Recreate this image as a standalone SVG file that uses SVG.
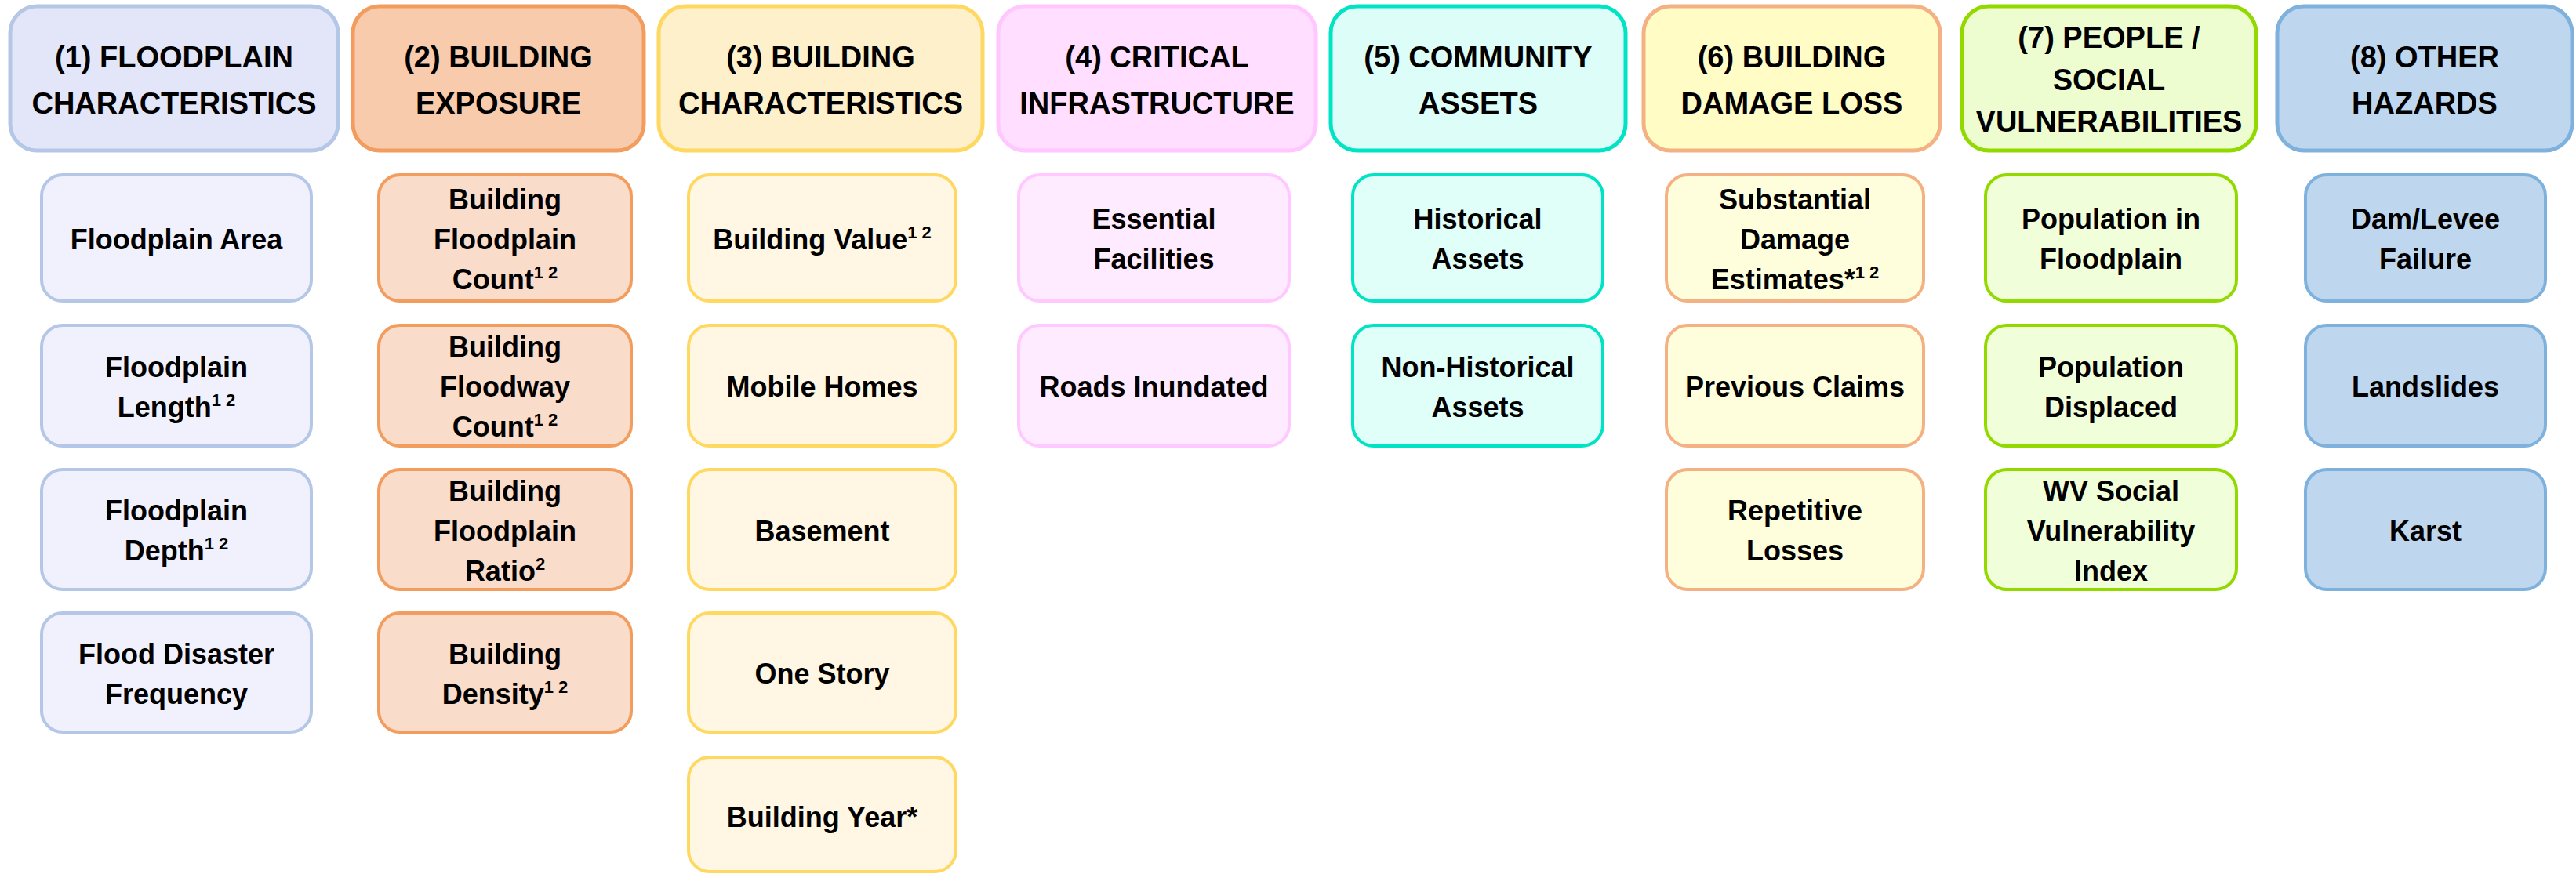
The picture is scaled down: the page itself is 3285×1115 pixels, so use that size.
<svg xmlns="http://www.w3.org/2000/svg" width="3285" height="1115" viewBox="0 0 3285 1115">
<style>
text{font-family:"Liberation Sans",Arial,sans-serif;font-weight:bold;fill:#000;text-anchor:middle}
.ht{font-size:38px}
.ct{font-size:36px}
.sup{font-size:22px}
.h{stroke-width:5}
.c{stroke-width:4}
.h1{fill:#E3E6F9;stroke:#B4C7E7}.c1{fill:#F0F1FC;stroke:#B4C7E7}
.h2{fill:#F7CBAC;stroke:#F29D5E}.c2{fill:#F9DCCA;stroke:#F29D5E}
.h3{fill:#FFF0CC;stroke:#FFD862}.c3{fill:#FFF7E3;stroke:#FFD862}
.h4{fill:#FFDEFF;stroke:#FFC6FF}.c4{fill:#FFEBFF;stroke:#FFC8FF}
.h5{fill:#DDFEF8;stroke:#00E3C4}.c5{fill:#E1FFF9;stroke:#00E3C4}
.h6{fill:#FFFCC6;stroke:#F4B183}.c6{fill:#FFFEDC;stroke:#F4B183}
.h7{fill:#EEFDD0;stroke:#92D900}.c7{fill:#F1FEDA;stroke:#92D900}
.h8{fill:#BED7EE;stroke:#7FB1DD}.c8{fill:#BED7EE;stroke:#7FB1DD}
</style>
<g id="connectors"/>

<!-- Column 1 -->
<g id="h1"><rect class="h h1" x="13" y="8" width="418" height="184" rx="34"/><text class="ht" x="222" y="86">(1) FLOODPLAIN</text><text class="ht" x="222" y="145">CHARACTERISTICS</text></g>
<g id="n1a"><rect class="c c1" x="53" y="223" width="344" height="161" rx="27"/><text class="ct" x="225" y="317.5">Floodplain Area</text></g>
<g id="n1b"><rect class="c c1" x="53" y="415" width="344" height="154" rx="27"/><text class="ct" x="225" y="480.5">Floodplain</text><text class="ct" x="225" y="531.5">Length<tspan class="sup" dy="-14">1 2</tspan></text></g>
<g id="n1c"><rect class="c c1" x="53" y="599" width="344" height="153" rx="27"/><text class="ct" x="225" y="664">Floodplain</text><text class="ct" x="225" y="715">Depth<tspan class="sup" dy="-14">1 2</tspan></text></g>
<g id="n1d"><rect class="c c1" x="53" y="782" width="344" height="152" rx="27"/><text class="ct" x="225" y="846.5">Flood Disaster</text><text class="ct" x="225" y="897.5">Frequency</text></g>

<!-- Column 2 -->
<g id="h2"><rect class="h h2" x="450" y="8" width="371" height="184" rx="34"/><text class="ht" x="635.5" y="86">(2) BUILDING</text><text class="ht" x="635.5" y="145">EXPOSURE</text></g>
<g id="n2a"><rect class="c c2" x="483" y="223" width="322" height="161" rx="27"/><text class="ct" x="644" y="266.5">Building</text><text class="ct" x="644" y="317.5">Floodplain</text><text class="ct" x="644" y="368.5">Count<tspan class="sup" dy="-14">1 2</tspan></text></g>
<g id="n2b"><rect class="c c2" x="483" y="415" width="322" height="154" rx="27"/><text class="ct" x="644" y="455">Building</text><text class="ct" x="644" y="506">Floodway</text><text class="ct" x="644" y="557">Count<tspan class="sup" dy="-14">1 2</tspan></text></g>
<g id="n2c"><rect class="c c2" x="483" y="599" width="322" height="153" rx="27"/><text class="ct" x="644" y="638.5">Building</text><text class="ct" x="644" y="689.5">Floodplain</text><text class="ct" x="644" y="740.5">Ratio<tspan class="sup" dy="-14">2</tspan></text></g>
<g id="n2d"><rect class="c c2" x="483" y="782" width="322" height="152" rx="27"/><text class="ct" x="644" y="846.5">Building</text><text class="ct" x="644" y="897.5">Density<tspan class="sup" dy="-14">1 2</tspan></text></g>

<!-- Column 3 -->
<g id="h3"><rect class="h h3" x="840" y="8" width="413" height="184" rx="34"/><text class="ht" x="1046.5" y="86">(3) BUILDING</text><text class="ht" x="1046.5" y="145">CHARACTERISTICS</text></g>
<g id="n3a"><rect class="c c3" x="878" y="223" width="341" height="161" rx="27"/><text class="ct" x="1048.5" y="317.5">Building Value<tspan class="sup" dy="-14">1 2</tspan></text></g>
<g id="n3b"><rect class="c c3" x="878" y="415" width="341" height="154" rx="27"/><text class="ct" x="1048.5" y="506">Mobile Homes</text></g>
<g id="n3c"><rect class="c c3" x="878" y="599" width="341" height="153" rx="27"/><text class="ct" x="1048.5" y="689.5">Basement</text></g>
<g id="n3d"><rect class="c c3" x="878" y="782" width="341" height="152" rx="27"/><text class="ct" x="1048.5" y="872">One Story</text></g>
<g id="n3e"><rect class="c c3" x="878" y="966" width="341" height="146" rx="27"/><text class="ct" x="1048.5" y="1054.5">Building Year*</text></g>

<!-- Column 4 -->
<g id="h4"><rect class="h h4" x="1273" y="8" width="405" height="184" rx="34"/><text class="ht" x="1475.5" y="86">(4) CRITICAL</text><text class="ht" x="1475.5" y="145">INFRASTRUCTURE</text></g>
<g id="n4a"><rect class="c c4" x="1299" y="223" width="345" height="161" rx="27"/><text class="ct" x="1471.5" y="292">Essential</text><text class="ct" x="1471.5" y="343">Facilities</text></g>
<g id="n4b"><rect class="c c4" x="1299" y="415" width="345" height="154" rx="27"/><text class="ct" x="1471.5" y="506">Roads Inundated</text></g>

<!-- Column 5 -->
<g id="h5"><rect class="h h5" x="1697" y="8" width="376" height="184" rx="34"/><text class="ht" x="1885" y="86">(5) COMMUNITY</text><text class="ht" x="1885" y="145">ASSETS</text></g>
<g id="n5a"><rect class="c c5" x="1725" y="223" width="319" height="161" rx="27"/><text class="ct" x="1884.5" y="292">Historical</text><text class="ct" x="1884.5" y="343">Assets</text></g>
<g id="n5b"><rect class="c c5" x="1725" y="415" width="319" height="154" rx="27"/><text class="ct" x="1884.5" y="480.5">Non-Historical</text><text class="ct" x="1884.5" y="531.5">Assets</text></g>

<!-- Column 6 -->
<g id="h6"><rect class="h h6" x="2096" y="8" width="378" height="184" rx="34"/><text class="ht" x="2285" y="86">(6) BUILDING</text><text class="ht" x="2285" y="145">DAMAGE LOSS</text></g>
<g id="n6a"><rect class="c c6" x="2125" y="223" width="328" height="161" rx="27"/><text class="ct" x="2289" y="266.5">Substantial</text><text class="ct" x="2289" y="317.5">Damage</text><text class="ct" x="2289" y="368.5">Estimates*<tspan class="sup" dy="-14">1 2</tspan></text></g>
<g id="n6b"><rect class="c c6" x="2125" y="415" width="328" height="154" rx="27"/><text class="ct" x="2289" y="506">Previous Claims</text></g>
<g id="n6c"><rect class="c c6" x="2125" y="599" width="328" height="153" rx="27"/><text class="ct" x="2289" y="664">Repetitive</text><text class="ct" x="2289" y="715">Losses</text></g>

<!-- Column 7 -->
<g id="h7"><rect class="h h7" x="2502" y="8" width="375" height="184" rx="34"/><text class="ht" x="2689.5" y="61">(7) PEOPLE /</text><text class="ht" x="2689.5" y="115">SOCIAL</text><text class="ht" x="2689.5" y="168">VULNERABILITIES</text></g>
<g id="n7a"><rect class="c c7" x="2532" y="223" width="320" height="161" rx="27"/><text class="ct" x="2692" y="292">Population in</text><text class="ct" x="2692" y="343">Floodplain</text></g>
<g id="n7b"><rect class="c c7" x="2532" y="415" width="320" height="154" rx="27"/><text class="ct" x="2692" y="480.5">Population</text><text class="ct" x="2692" y="531.5">Displaced</text></g>
<g id="n7c"><rect class="c c7" x="2532" y="599" width="320" height="153" rx="27"/><text class="ct" x="2692" y="638.5">WV Social</text><text class="ct" x="2692" y="689.5">Vulnerability</text><text class="ct" x="2692" y="740.5">Index</text></g>

<!-- Column 8 -->
<g id="h8"><rect class="h h8" x="2904" y="8" width="376" height="184" rx="34"/><text class="ht" x="3092" y="86">(8) OTHER</text><text class="ht" x="3092" y="145">HAZARDS</text></g>
<g id="n8a"><rect class="c c8" x="2940" y="223" width="306" height="161" rx="27"/><text class="ct" x="3093" y="292">Dam/Levee</text><text class="ct" x="3093" y="343">Failure</text></g>
<g id="n8b"><rect class="c c8" x="2940" y="415" width="306" height="154" rx="27"/><text class="ct" x="3093" y="506">Landslides</text></g>
<g id="n8c"><rect class="c c8" x="2940" y="599" width="306" height="153" rx="27"/><text class="ct" x="3093" y="689.5">Karst</text></g>
</svg>
